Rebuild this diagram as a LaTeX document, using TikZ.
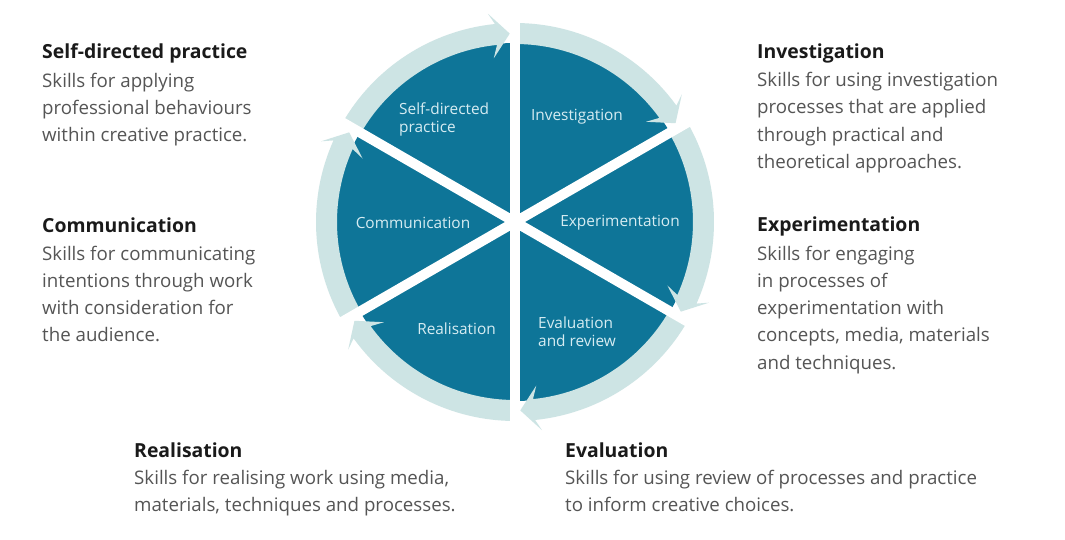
\documentclass[tikz,border=0pt]{standalone}
\usepackage{fontspec}
\setmainfont{Open Sans}
\usetikzlibrary{calc}
\definecolor{diskc}{RGB}{14,117,152}
\definecolor{ringc}{RGB}{205,228,228}
\definecolor{headc}{RGB}{26,26,26}
\definecolor{bodyc}{RGB}{85,85,85}
\definecolor{inlab}{RGB}{214,236,242}
\newcommand\blk[1]{\begin{tabular}[t]{@{}l@{}}#1\end{tabular}}
\tikzset{
 head/.style={anchor=base west, inner sep=0pt, text=headc, font=\fontsize{19.4}{27.3}\selectfont\bfseries},
 body/.style={anchor=base west, inner sep=0pt, text=bodyc, font=\fontsize{18.7}{27.3}\selectfont},
 wlab/.style={inner sep=0pt, text=inlab, font=\fontsize{15.4}{18}\selectfont, align=left},
 spoke/.style={white, line width=10pt},
}
\begin{document}
\begin{tikzpicture}[x=1pt,y=1pt]
\useasboundingbox[fill=white] (0,0) rectangle (1065,539);
\coordinate (C) at (515,317);
% disk
\fill[diskc] (C) circle[radius=179pt];
% ring arrows
\foreach \a in {90,30,-30,-90,-150,150}{
  \pgfmathsetmacro\t{\a-60+1.6}
  \pgfmathsetmacro\b{\t+4.2}
  \pgfmathsetmacro\g{\t+5.8}
  \fill[ringc] ($(C)+(\a:199pt)$) arc[start angle=\a, end angle=\b, radius=199pt]
     -- ($(C)+(\g:210pt)$) -- ($(C)+(\t:188.5pt)$) -- ($(C)+(\g:165pt)$)
     -- ($(C)+(\b:178pt)$) arc[start angle=\b, end angle=\a, radius=178pt] -- cycle;
}
% spokes
\foreach \a in {90,30,-30,-90,-150,150}{
  \draw[spoke] (C) -- ($(C)+(\a:215pt)$);
}
% wheel labels
\node[wlab, anchor=west] (wsdp) at (399,420) {Self-directed\\practice};
\node[wlab] (winv) at (577,422) {Investigation};
\node[wlab] (wcom) at (413,316) {Communication};
\node[wlab] (wexp) at (620,316) {Experimentation};
\node[wlab] (wrea) at (456.5,210) {Realisation};
\node[wlab, anchor=west] (weva) at (538,207) {Evaluation\\and review};
% text blocks
\node[head] (hsdp) at (42,480.7) {Self-directed practice};
\node[body] (bsdp) at (42,451.7) {\blk{Skills for applying\\professional behaviours\\within creative practice.}};
\node[head] (hinv) at (757,480.7) {Investigation};
\node[body] (binv) at (757,452.3) {\blk{Skills for using investigation\\processes that are applied\\through practical and\\theoretical approaches.}};
\node[head] (hcom) at (42,306.7) {Communication};
\node[body] (bcom) at (42,279) {\blk{Skills for communicating\\intentions through work\\with consideration for\\the audience.}};
\node[head] (hexp) at (757,307.3) {Experimentation};
\node[body] (bexp) at (757,279) {\blk{Skills for engaging\\in processes of\\experimentation with\\concepts, media, materials\\and techniques.}};
\node[head] (hrea) at (134,82) {Realisation};
\node[body] (brea) at (134,55) {\blk{Skills for realising work using media,\\materials, techniques and processes.}};
\node[head] (heva) at (565,82) {Evaluation};
\node[body] (beva) at (565,55) {\blk{Skills for using review of processes and practice\\to inform creative choices.}};
\end{tikzpicture}
\end{document}
